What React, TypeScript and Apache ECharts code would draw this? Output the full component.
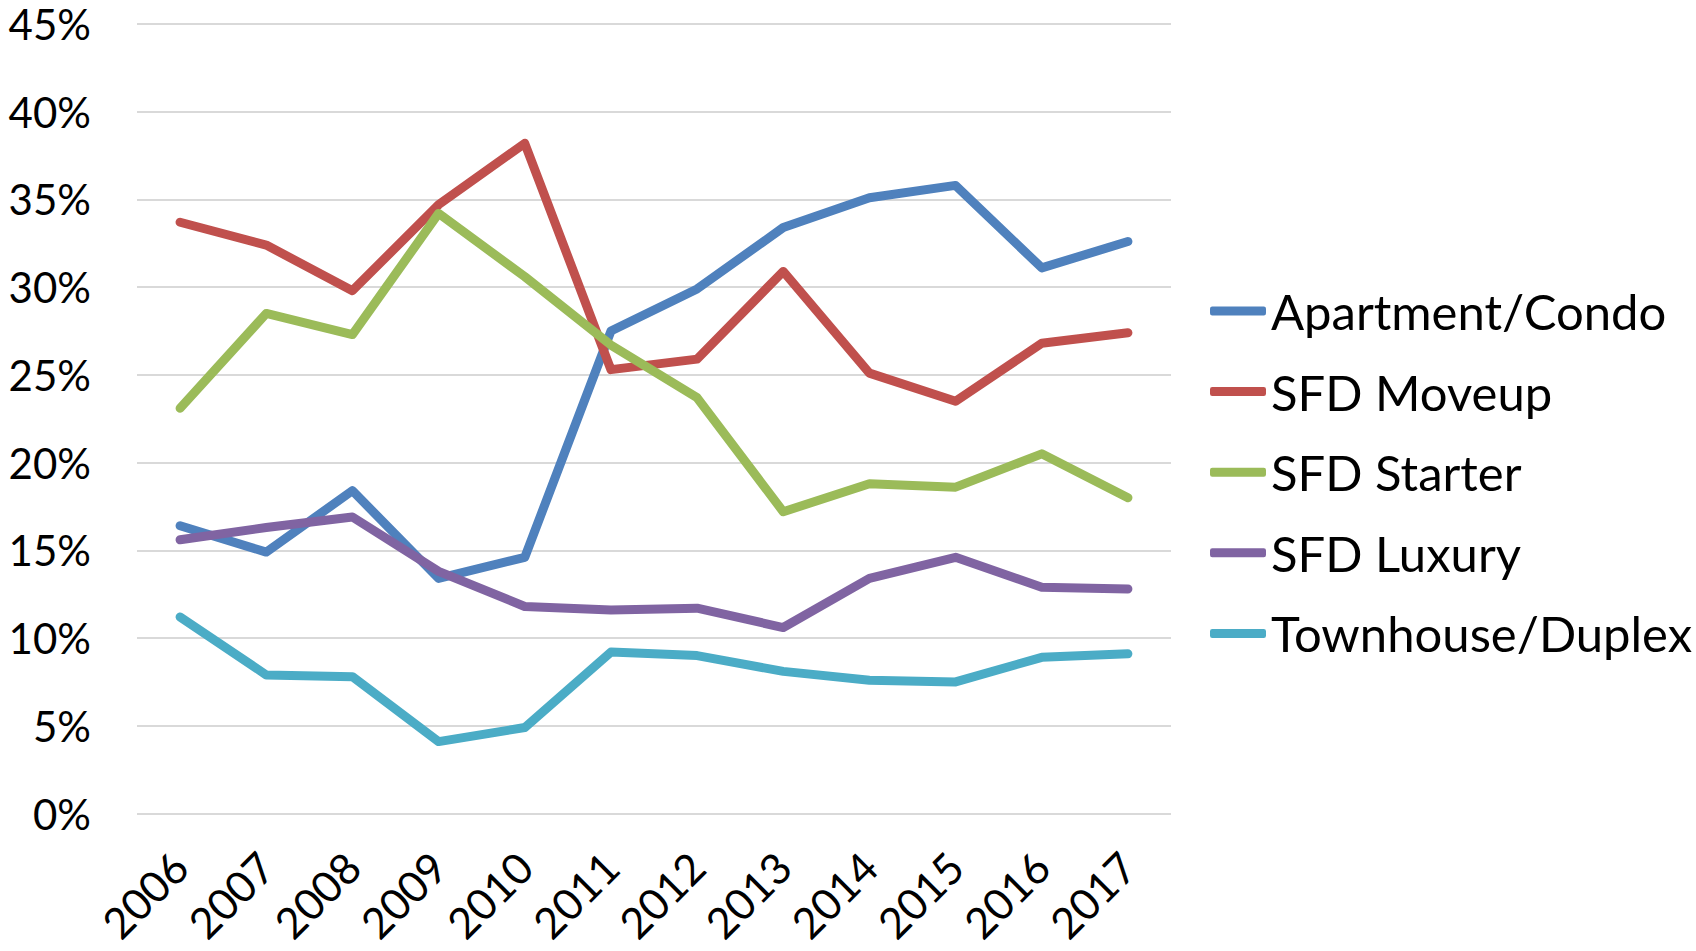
import React, { useEffect, useRef } from "react";
import * as echarts from "echarts";

const years = ["2006", "2007", "2008", "2009", "2010", "2011", "2012", "2013", "2014", "2015", "2016", "2017"];
const apartmentCondo = [16.4, 14.9, 18.4, 13.4, 14.6, 27.5, 29.9, 33.4, 35.1, 35.8, 31.1, 32.6];
const sfdMoveup = [33.7, 32.4, 29.8, 34.7, 38.2, 25.3, 25.9, 30.9, 25.1, 23.5, 26.8, 27.4];
const sfdStarter = [23.1, 28.5, 27.3, 34.2, 30.6, 26.7, 23.7, 17.2, 18.8, 18.6, 20.5, 18.0];
const sfdLuxury = [15.6, 16.3, 16.9, 13.8, 11.8, 11.6, 11.7, 10.6, 13.4, 14.6, 12.9, 12.8];
const townhouseDuplex = [11.2, 7.9, 7.8, 4.1, 4.9, 9.2, 9.0, 8.1, 7.6, 7.5, 8.9, 9.1];

const seriesNames = ["Apartment/Condo", "SFD Moveup", "SFD Starter", "SFD Luxury", "Townhouse/Duplex"];
const seriesData = [apartmentCondo, sfdMoveup, sfdStarter, sfdLuxury, townhouseDuplex];
const colors = ["#4F81BD", "#C0504D", "#9BBB59", "#8064A2", "#4BACC6"];

export default function App() {
  const ref = useRef<HTMLDivElement>(null);
  useEffect(() => {
    if (!ref.current) return;
    const chart = echarts.init(ref.current, null, { renderer: "svg" });
    const font = "Lato";
    chart.setOption({
      animation: false,
      backgroundColor: "#ffffff",
      color: colors,
      grid: { left: 137, right: 525, top: 24, bottom: 137.5, containLabel: false },
      legend: {
        orient: "vertical",
        left: 1210,
        top: 281,
        padding: 0,
        icon: "roundRect",
        itemWidth: 56,
        itemHeight: 9,
        itemGap: 20.6,
        textStyle: { fontFamily: font, fontSize: 49, color: "#000", lineHeight: 60 },
        data: seriesNames,
      },
      xAxis: {
        type: "category",
        data: years,
        boundaryGap: true,
        axisLine: { show: false },
        axisTick: { show: false },
        axisLabel: {
          rotate: 45,
          margin: 46,
          interval: 0,
          fontFamily: font,
          fontSize: 43,
          color: "#000",
        },
      },
      yAxis: {
        type: "value",
        min: 0,
        max: 45,
        interval: 5,
        axisLine: { show: false },
        axisTick: { show: false },
        splitLine: { lineStyle: { color: "#d9d9d9", width: 2 } },
        axisLabel: {
          formatter: "{value}%",
          margin: 46,
          fontFamily: font,
          fontSize: 42,
          color: "#000",
        },
      },
      series: seriesNames.map((name, i) => ({
        name,
        type: "line",
        data: seriesData[i],
        symbol: "none",
        lineStyle: { width: 9, color: colors[i], cap: "round", join: "round" },
        itemStyle: { color: colors[i] },
      })),
    });
    return () => chart.dispose();
  }, []);
  return <div ref={ref} style={{ position: "fixed", left: 0, top: 0, width: 1696, height: 951 }} />;
}
